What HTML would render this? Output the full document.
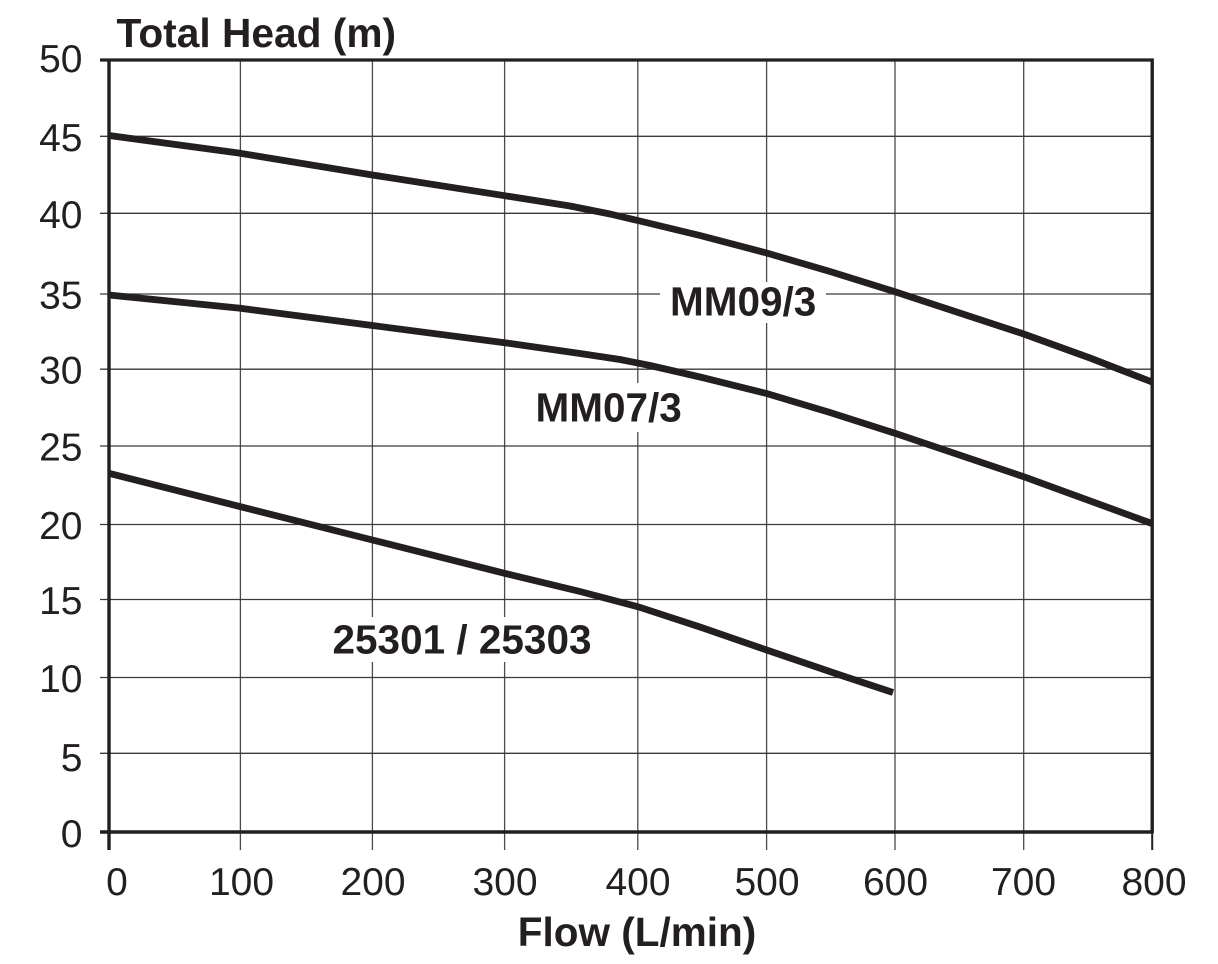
<!DOCTYPE html>
<html>
<head>
<meta charset="utf-8">
<style>
  html, body { margin:0; padding:0; background:#fff; }
  svg { display:block; }
  text { font-family: "Liberation Sans", Arial, sans-serif; fill:#231f20; }
</style>
</head>
<body>
<svg width="1218" height="964" viewBox="0 0 1218 964" xmlns="http://www.w3.org/2000/svg">
  <rect x="0" y="0" width="1218" height="964" fill="#fff"/>

  <!-- vertical gridlines -->
  <g stroke="#4a4a4a" stroke-width="1.3">
    <line x1="240.4" y1="60" x2="240.4" y2="850"/>
    <line x1="372.4" y1="60" x2="372.4" y2="850"/>
    <line x1="504.6" y1="60" x2="504.6" y2="850"/>
    <line x1="637.8" y1="60" x2="637.8" y2="850"/>
    <line x1="766.6" y1="60" x2="766.6" y2="850"/>
    <line x1="895" y1="60" x2="895" y2="850"/>
    <line x1="1023.7" y1="60" x2="1023.7" y2="850"/>
  </g>
  <!-- horizontal gridlines -->
  <g stroke="#3a3a3a" stroke-width="1.3">
    <line x1="100" y1="136.3" x2="1152" y2="136.3"/>
    <line x1="100" y1="213.3" x2="1152" y2="213.3"/>
    <line x1="100" y1="294" x2="1152" y2="294"/>
    <line x1="100" y1="369.2" x2="1152" y2="369.2"/>
    <line x1="100" y1="446" x2="1152" y2="446"/>
    <line x1="100" y1="524.5" x2="1152" y2="524.5"/>
    <line x1="100" y1="599.5" x2="1152" y2="599.5"/>
    <line x1="100" y1="677.5" x2="1152" y2="677.5"/>
    <line x1="100" y1="753.3" x2="1152" y2="753.3"/>
  </g>

  <!-- label knockout boxes -->
  <rect x="660" y="282" width="166" height="41" fill="#fff"/>
  <rect x="527" y="383" width="165" height="49" fill="#fff"/>
  <rect x="322" y="617" width="280" height="45" fill="#fff"/>

  <!-- frame -->
  <g stroke="#231f20" fill="none">
    <line x1="100" y1="60" x2="1153.5" y2="60" stroke-width="3.2"/>
    <line x1="100" y1="832" x2="1153.5" y2="832" stroke-width="3.4"/>
    <line x1="109" y1="58.5" x2="109" y2="850" stroke-width="3.4"/>
    <line x1="1152.2" y1="58.5" x2="1152.2" y2="833" stroke-width="3.4"/>
    <line x1="1152.2" y1="833" x2="1152.2" y2="850" stroke-width="2"/>
  </g>

  <!-- curves -->
  <g stroke="#231f20" stroke-width="6.8" fill="none" stroke-linejoin="round" stroke-linecap="butt">
    <polyline points="109,135.5 240.4,153.3 372.4,175 504.6,195.7 570,206 610,214 637.8,220.5 700,235.5 766.6,253 830,271.5 895,291.7 1023.7,334 1090,358 1152,382"/>
    <polyline points="109,295 240.4,308.3 372.4,325.5 504.6,342.7 580,353.5 620,359.5 650,365.5 700,377 766.6,393.5 830,412.5 895,433.3 1023.7,476.7 1152,523.5"/>
    <polyline points="109,473.3 240.4,506.7 372.4,540 504.6,573.3 580,591.5 637.8,606.7 700,627 766.6,650 840,675 893,692.5"/>
  </g>

  <!-- y tick labels -->
  <g font-size="39" text-anchor="end">
    <text x="82.5" y="72">50</text>
    <text x="82.5" y="151">45</text>
    <text x="82.5" y="228">40</text>
    <text x="82.5" y="308.5">35</text>
    <text x="82.5" y="383.7">30</text>
    <text x="82.5" y="460.5">25</text>
    <text x="82.5" y="539">20</text>
    <text x="82.5" y="614">15</text>
    <text x="82.5" y="692">10</text>
    <text x="82.5" y="771">5</text>
    <text x="82.5" y="847">0</text>
  </g>

  <!-- x tick labels -->
  <g font-size="39" text-anchor="middle">
    <text x="117" y="895">0</text>
    <text x="241.5" y="895">100</text>
    <text x="373" y="895">200</text>
    <text x="505" y="895">300</text>
    <text x="638" y="895">400</text>
    <text x="767" y="895">500</text>
    <text x="895.5" y="895">600</text>
    <text x="1023.5" y="895">700</text>
    <text x="1154" y="895">800</text>
  </g>

  <!-- titles -->
  <text x="116.5" y="47" font-size="40.7" font-weight="bold">Total Head (m)</text>
  <text x="637" y="946" font-size="40.5" font-weight="bold" text-anchor="middle">Flow (L/min)</text>

  <!-- series labels -->
  <text x="670" y="315.7" font-size="40.5" font-weight="bold">MM09/3</text>
  <text x="535.5" y="421.7" font-size="40.5" font-weight="bold">MM07/3</text>
  <text x="332.5" y="653.3" font-size="40.5" font-weight="bold">25301 / 25303</text>
</svg>
</body>
</html>
